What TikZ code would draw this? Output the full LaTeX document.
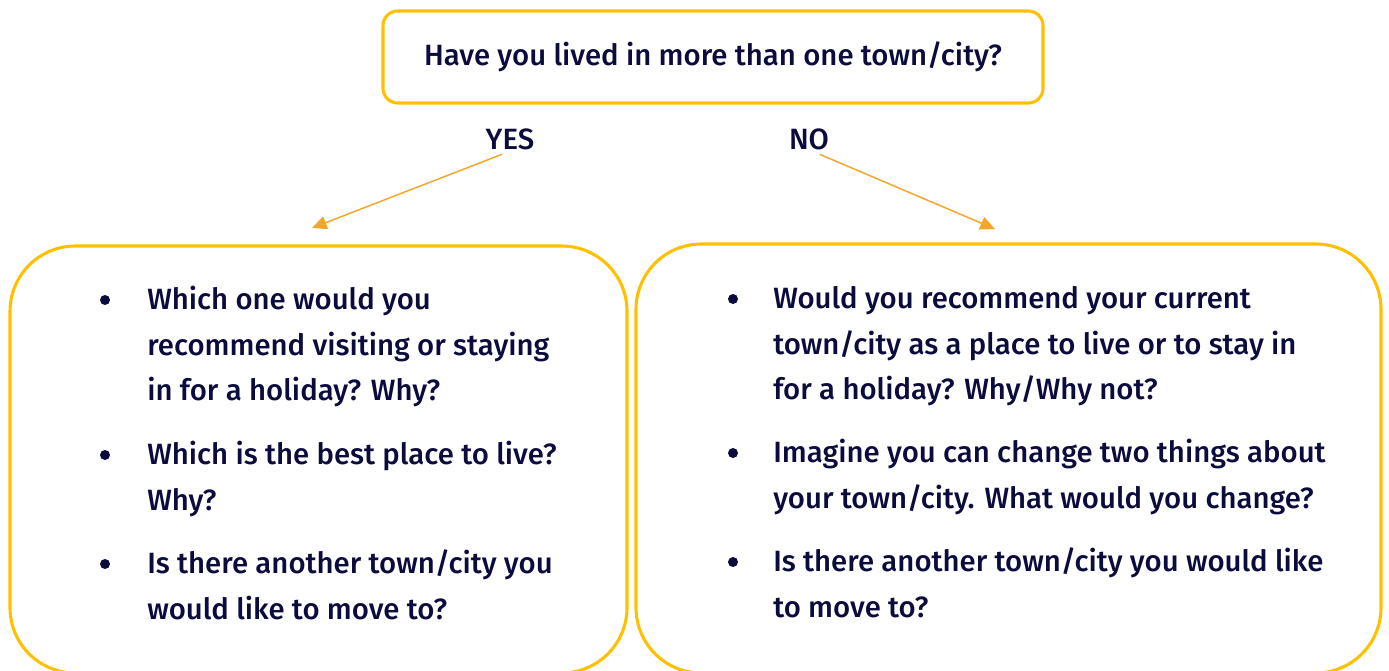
\documentclass[tikz,border=0pt]{standalone}
\usepackage{fontspec}
\setmainfont{Fira Sans}[UprightFont={* Medium}]
\usetikzlibrary{arrows.meta}
\definecolor{navy}{HTML}{0B0B3D}
\definecolor{gold}{HTML}{FFC000}
\definecolor{amber}{HTML}{F5A52A}

\begin{document}
\begin{tikzpicture}
	[x=0.75pt, y=-0.75pt,
	every node/.style = {text=navy, font=\fontsize{22}{34.1}\selectfont},
	box/.style = {draw=gold, line width=2.3pt, rounded corners=49pt, inner sep=0pt},
	item/.style = {anchor=base west, align=left, inner sep=0pt},
	dot/.style = {circle, fill=navy, inner sep=0pt, minimum size=7.5pt},
	arrow/.style = {draw=amber, line width=1.1pt, -{Triangle[length=11pt, width=10pt]}}]
	\useasboundingbox (0,0) rectangle (1389,671);
	\clip (0,0) rectangle (1389,671);
	% question and answers
	\node[box, rounded corners=11pt, minimum width=495pt, minimum height=69pt] (question) at (713,57) {Have you lived in more than one town/city?};
	\node (yes) at (510,139) {YES};
	\node (no) at (809,139) {NO};
	\coordinate (yestip) at (312,228);
	\coordinate (notip) at (995,229);
	\draw[arrow] ([xshift=-6pt]yes.south) -- (yestip);
	\draw[arrow] ([xshift=8pt]no.south) -- (notip);
	% left box
	\node[box, minimum width=462.75pt, minimum height=320.25pt] (yesbox) at (318.5,459.5) {};
	\node[dot] (yesdot1) at (105,300) {};
	\node[item] (yesitem1) at (147,400.5) {Which one would you\\recommend visiting or staying\\in for a holiday? Why?};
	\node[dot] (yesdot2) at (105,455) {};
	\node[item] (yesitem2) at (147,510) {Which is the best place to live?\\Why?};
	\node[dot] (yesdot3) at (105,564) {};
	\node[item] (yesitem3) at (147,619) {Is there another town/city you\\would like to move to?};
	% right box
	\node[box, minimum width=558.75pt, minimum height=321.75pt] (nobox) at (1008.5,458.5) {};
	\node[dot] (nodot1) at (733,299) {};
	\node[item] (noitem1) at (773,399.5) {Would you recommend your current\\town/city as a place to live or to stay in\\for a holiday? Why/Why not?};
	\node[dot] (nodot2) at (733,453) {};
	\node[item] (noitem2) at (773,508) {Imagine you can change two things about\\your town/city. What would you change?};
	\node[dot] (nodot3) at (733,562) {};
	\node[item] (noitem3) at (773,617) {Is there another town/city you would like\\to move to?};
\end{tikzpicture}
\end{document}
